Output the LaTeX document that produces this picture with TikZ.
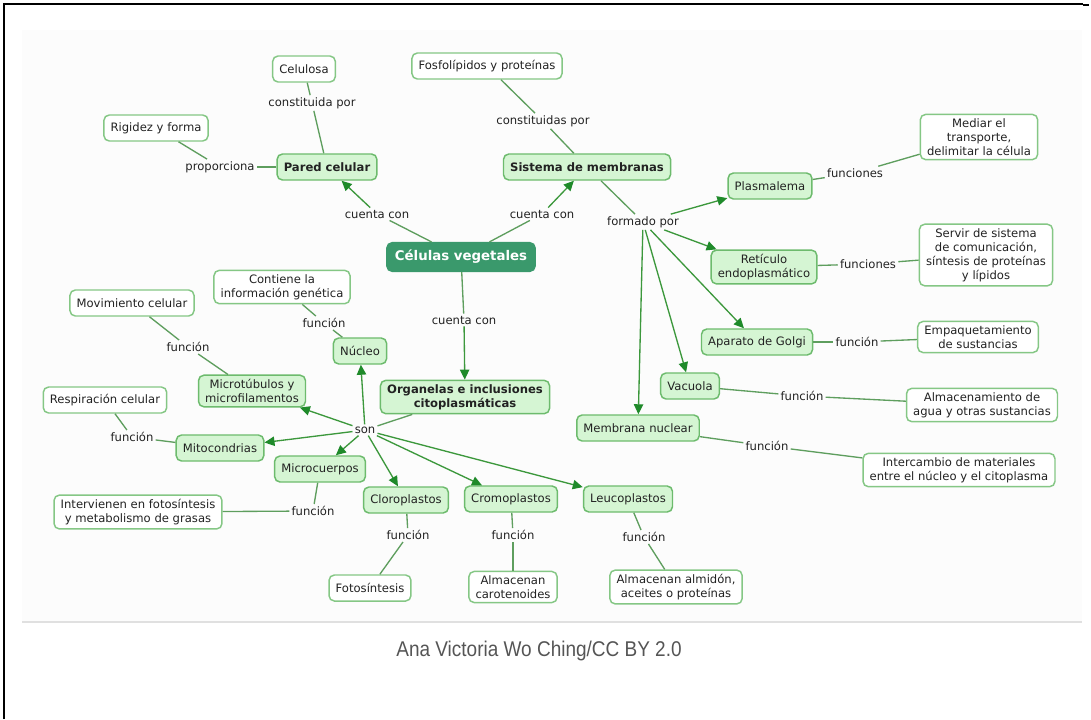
\documentclass[tikz,border=0pt]{standalone}
\usepackage{fontspec}
\setmainfont{DejaVu Sans}
\newfontfamily\capfont{Liberation Sans}
\usetikzlibrary{arrows.meta}
\definecolor{cfill}{HTML}{D5F5D3}
\definecolor{cborder}{HTML}{6DBB6D}
\definecolor{lborder}{HTML}{85C785}
\definecolor{maincol}{HTML}{3A996C}
\definecolor{txt}{HTML}{222222}
\definecolor{lcol}{HTML}{5E9E5E}
\definecolor{acol}{HTML}{3C983C}
\definecolor{tipcol}{HTML}{1F8A2A}
\definecolor{capgray}{HTML}{555555}
\begin{document}
\begin{tikzpicture}[x=0.75pt,y=-0.75pt,
  base/.style={rounded corners=4pt, line width=1.1pt, align=center,
    font=\fontsize{8.7}{10.6}\selectfont, text=txt, inner xsep=5pt, inner ysep=3pt,
    minimum height=19.5pt},
  concept/.style={base, draw=cborder, fill=cfill},
  leaf/.style={base, draw=lborder, fill=white},
  mainbox/.style={base, draw=maincol, fill=maincol, text=white,
    font=\bfseries\fontsize{10}{12}\selectfont, minimum height=21.5pt, inner xsep=6pt},
  lbl/.style={font=\fontsize{8.7}{10.6}\selectfont, text=txt, inner sep=1.5pt},
  con/.style={draw=lcol, line width=1pt},
  arr/.style={draw=acol, line width=1pt, -{Triangle[length=7.5pt,width=7pt,color=tipcol]}}
]
\useasboundingbox (0,0) rectangle (1091,719);
% page frame and panel
\fill[black!1.2] (22,30) rectangle (1082,622);
\draw[black!12, line width=1.5pt] (22,622) -- (1082,622);
\draw[black, line width=1.4pt] (4,719) -- (4,4) -- (1083,4);
\draw[black, line width=2pt] (1083,5) -- (1089,5);

% nodes
\node[leaf] (cel) at (304,69) {Celulosa};
\node[lbl] (cp1) at (312,103) {constituida por};
\node[leaf] (rig) at (156,128) {Rigidez y forma};
\node[lbl] (prop) at (220,167) {proporciona};
\node[concept] (pc) at (327,167) {\textbf{Pared celular}};
\node[lbl] (cc1) at (377,214) {cuenta con};
\node[mainbox] (cv) at (461,257) {Células vegetales};
\node[lbl] (cc2) at (542,214) {cuenta con};
\node[concept] (sm) at (587,167) {\textbf{Sistema de membranas}};
\node[leaf] (fos) at (487,66) {Fosfolípidos y proteínas};
\node[lbl] (cp2) at (543,121) {constituidas por};
\node[lbl] (fp) at (643,222) {formado por};
\node[concept] (pl) at (770,186) {Plasmalema};
\node[lbl] (fn1) at (855,173) {funciones};
\node[leaf] (med) at (979,137) {Mediar el\\transporte,\\delimitar la célula};
\node[concept] (ret) at (764,267) {Retículo\\endoplasmático};
\node[lbl] (fn2) at (868,264) {funciones};
\node[leaf] (ser) at (986,255) {Servir de sistema\\de comunicación,\\síntesis de proteínas\\y lípidos};
\node[concept] (gol) at (757,342) {Aparato de Golgi};
\node[lbl] (f3) at (857,342) {función};
\node[leaf] (emp) at (978,337) {Empaquetamiento\\de sustancias};
\node[concept] (vac) at (690,386) {Vacuola};
\node[lbl] (f4) at (802,396) {función};
\node[leaf] (alm) at (982,405) {Almacenamiento de\\agua y otras sustancias};
\node[concept] (mn) at (638,428) {Membrana nuclear};
\node[lbl] (f5) at (767,446) {función};
\node[leaf] (int) at (959,470) {Intercambio de materiales\\entre el núcleo y el citoplasma};
\node[concept] (org) at (465,397) {\textbf{Organelas e inclusiones}\\\textbf{citoplasmáticas}};
\node[lbl] (cc3) at (464,320) {cuenta con};
\node[concept] (nuc) at (360,351) {Núcleo};
\node[lbl] (f6) at (324,323) {función};
\node[leaf] (cont) at (282,287) {Contiene la\\información genética};
\node[concept] (mic) at (252,391) {Microtúbulos y\\microfilamentos};
\node[lbl] (f7) at (188,347) {función};
\node[leaf] (mov) at (132,303) {Movimiento celular};
\node[leaf] (res) at (105,400) {Respiración celular};
\node[lbl] (f8) at (132,437) {función};
\node[concept] (mit) at (220,448) {Mitocondrias};
\node[lbl] (son) at (365,430) {son};
\node[concept] (mcp) at (320,469) {Microcuerpos};
\node[lbl] (f9) at (313,511) {función};
\node[leaf] (inv) at (138,512) {Intervienen en fotosíntesis\\y metabolismo de grasas};
\node[concept] (clo) at (406,500) {Cloroplastos};
\node[lbl] (f10) at (408,535) {función};
\node[leaf] (fot) at (370,588) {Fotosíntesis};
\node[concept] (cro) at (511,499) {Cromoplastos};
\node[lbl] (f11) at (513,535) {función};
\node[leaf] (car) at (513,587) {Almacenan\\carotenoides};
\node[concept] (leu) at (628,499) {Leucoplastos};
\node[lbl] (f12) at (644,537) {función};
\node[leaf] (aal) at (676,587) {Almacenan almidón,\\aceites o proteínas};

% connectors
\draw[con] (cv) -- (cc1); \draw[arr] (cc1) -- (pc);
\draw[con] (cv) -- (cc2); \draw[arr] (cc2) -- (sm);
\draw[con] (cv) -- (cc3); \draw[arr] (cc3) -- (org);
\draw[con] (pc) -- (prop); \draw[con] (prop) -- (rig);
\draw[con] (pc) -- (cp1); \draw[con] (cp1) -- (cel);
\draw[con] (sm) -- (cp2); \draw[con] (cp2) -- (fos);
\draw[con] (sm) -- (fp);
\foreach \t in {pl,ret,gol,vac,mn} \draw[arr] (fp) -- (\t);
\draw[con] (pl) -- (fn1); \draw[con] (fn1) -- (med);
\draw[con] (ret) -- (fn2); \draw[con] (fn2) -- (ser);
\draw[con] (gol) -- (f3); \draw[con] (f3) -- (emp);
\draw[con] (vac) -- (f4); \draw[con] (f4) -- (alm);
\draw[con] (mn) -- (f5); \draw[con] (f5) -- (int);
\draw[con] (org) -- (son);
\foreach \t in {nuc,mic,mit,mcp,clo,cro,leu} \draw[arr] (son) -- (\t);
\draw[con] (nuc) -- (f6); \draw[con] (f6) -- (cont);
\draw[con] (mic) -- (f7); \draw[con] (f7) -- (mov);
\draw[con] (mit) -- (f8); \draw[con] (f8) -- (res);
\draw[con] (mcp) -- (f9); \draw[con] (f9) -- (inv);
\draw[con] (clo) -- (f10); \draw[con] (f10) -- (fot);
\draw[con] (cro) -- (f11); \draw[con] (f11) -- (car);
\draw[con] (leu) -- (f12); \draw[con] (f12) -- (aal);

% caption
\node[text=capgray, font=\capfont\fontsize{16}{18}\selectfont] (cap) at (539,651) {\scalebox{0.89}[1]{Ana Victoria Wo Ching/CC BY 2.0}};
\end{tikzpicture}
\end{document}
